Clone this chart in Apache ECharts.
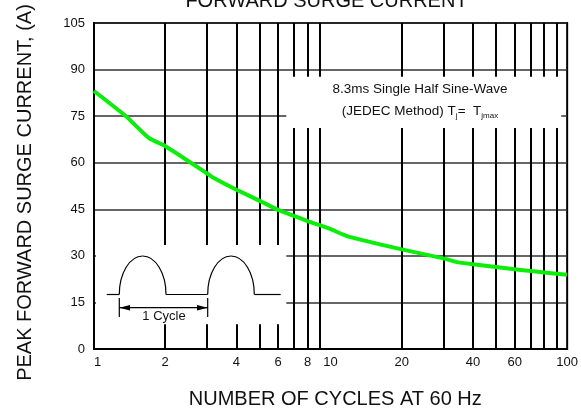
<!DOCTYPE html>
<html>
<head>
<meta charset="utf-8">
<script src="https://cdn.jsdelivr.net/npm/echarts@6/dist/echarts.min.js"></script>
<style>
    html, body { margin: 0; padding: 0; background: #fff; }
    #chart { width: 581px; height: 414px; }
</style>
</head>
<body>
<div id="chart"></div>
<script>
// ==================
// DATA
// ==================

const cycles = [1, 1.37, 1.71, 2, 3, 3.17, 4, 5, 6, 7, 8, 10, 11.9, 20, 30, 34.7, 40, 60, 70.6, 100];
const surgeCurrent = [83.1, 74.9, 67.9, 65.4, 56.6, 55.3, 51.3, 47.8, 44.8, 42.9, 41.2, 38.6, 36.2, 32.1, 29.2, 27.9, 27.3, 25.7, 25.1, 23.9];

const xLabelValues = [1, 2, 4, 6, 8, 10, 20, 40, 60, 100];
const xGridValues = [2, 3, 4, 5, 6, 7, 8, 9, 20, 30, 40, 50, 60, 70, 80, 90];

// white boxes that blank the grid behind the inset and the note
const insetBox = [[1.02, 8], [6.5, 33.5]];
const noteBox = [[6.5, 71.2], [94.4, 87.7]];

// ==================
// CONFIG
// ==================

const FONT = '"Liberation Sans", Arial, sans-serif';
const TEXT = '#111';
const LINE = { stroke: '#000', lineWidth: 1.2, fill: null };

const chart = echarts.init(document.getElementById('chart'));

// inset waveform: a pulse is a half ellipse made of two quarter curves
const baseY = 294.5;
const topY = 256;
const K = 0.5523;

function halfPulse(x0, x1) {
    const h = baseY - topY;
    const rx = (x1 - x0) / 2;
    const xm = x0 + rx;
    return [
        {
            type: 'bezierCurve', z: 10, style: LINE,
            shape: { x1: x0, y1: baseY, cpx1: x0, cpy1: baseY - h * K, cpx2: xm - rx * K, cpy2: topY, x2: xm, y2: topY }
        },
        {
            type: 'bezierCurve', z: 10, style: LINE,
            shape: { x1: xm, y1: topY, cpx1: xm + rx * K, cpy1: topY, cpx2: x1, cpy2: baseY - h * K, x2: x1, y2: baseY }
        }
    ];
}

const insetGraphics = [
    { type: 'line', z: 10, style: LINE, shape: { x1: 106.7, y1: baseY, x2: 119.3, y2: baseY } },
    ...halfPulse(119.3, 166),
    { type: 'line', z: 10, style: LINE, shape: { x1: 166, y1: baseY, x2: 207.7, y2: baseY } },
    ...halfPulse(207.7, 254.3),
    { type: 'line', z: 10, style: LINE, shape: { x1: 254.3, y1: baseY, x2: 280.7, y2: baseY } },
    { type: 'line', z: 10, style: LINE, shape: { x1: 119.3, y1: 298, x2: 119.3, y2: 317 } },
    { type: 'line', z: 10, style: LINE, shape: { x1: 207.7, y1: 298, x2: 207.7, y2: 317 } },
    { type: 'line', z: 10, style: LINE, shape: { x1: 119.3, y1: 307.7, x2: 207.7, y2: 307.7 } },
    { type: 'polygon', z: 10, style: { fill: '#000' }, shape: { points: [[119.3, 307.7], [130, 305], [130, 310.4]] } },
    { type: 'polygon', z: 10, style: { fill: '#000' }, shape: { points: [[207.7, 307.7], [197, 305], [197, 310.4]] } },
    {
        type: 'text', x: 164, y: 316.5, z: 11,
        style: { text: '1 Cycle', font: '13px ' + FONT, fill: TEXT, align: 'center', verticalAlign: 'middle' }
    }
];

const option = {
    animation: false,
    backgroundColor: '#fff',
    grid: {
        left: 94,
        top: 23,
        width: 475,
        height: 326,
        show: true,
        borderColor: '#000',
        borderWidth: 2,
        containLabel: false
    },
    xAxis: {
        type: 'log',
        logBase: 10,
        min: 1,
        max: 100,
        axisLine: { show: true, lineStyle: { color: '#000', width: 2 } },
        axisTick: { show: false },
        splitLine: { show: false },
        axisLabel: {
            customValues: xLabelValues,
            alignMinLabel: 'left',
            color: TEXT,
            fontSize: 13,
            fontFamily: FONT,
            margin: 7
        }
    },
    yAxis: {
        type: 'value',
        min: 0,
        max: 105,
        interval: 15,
        axisLine: { show: true, lineStyle: { color: '#000', width: 2 } },
        axisTick: { show: false },
        axisLabel: {
            color: TEXT,
            fontSize: 13,
            fontFamily: FONT,
            margin: 9
        },
        splitLine: {
            show: true,
            lineStyle: { color: '#333', width: 1.5 }
        }
    },
    series: [{
        type: 'line',
        z: 3,
        data: cycles.map((c, i) => [c, surgeCurrent[i]]),
        smooth: 0.15,
        symbol: 'none',
        lineStyle: { color: '#0aee0a', width: 4 },
        markLine: {
            z: 1,
            silent: true,
            symbol: 'none',
            label: { show: false },
            lineStyle: { color: '#000', width: 2, type: 'solid' },
            data: xGridValues.map(v => ({ xAxis: v }))
        },
        markArea: {
            z: 2,
            silent: true,
            itemStyle: { color: '#fff', borderWidth: 0 },
            data: [
                [{ coord: insetBox[0] }, { coord: insetBox[1] }],
                [{ coord: noteBox[0] }, { coord: noteBox[1] }]
            ]
        }
    }],
    graphic: [
        {
            type: 'text', x: 326.5, y: 1, z: 10,
            style: {
                text: 'FORWARD SURGE CURRENT', font: '20px ' + FONT, fill: TEXT,
                align: 'center', verticalAlign: 'middle'
            }
        },
        {
            type: 'text', x: 335.3, y: 399, z: 10,
            style: {
                text: 'NUMBER OF CYCLES AT 60 Hz', font: '20px ' + FONT, fill: TEXT,
                align: 'center', verticalAlign: 'middle'
            }
        },
        {
            type: 'text', x: 25.8, y: 192.5, rotation: Math.PI / 2, z: 10,
            style: {
                text: 'PEAK FORWARD SURGE CURRENT, (A)', font: '20px ' + FONT, fill: TEXT,
                align: 'center', verticalAlign: 'middle'
            }
        },
        {
            type: 'text', x: 420, y: 89, z: 10,
            style: {
                text: '8.3ms Single Half Sine-Wave', font: '13.5px ' + FONT, fill: TEXT,
                align: 'center', verticalAlign: 'middle'
            }
        },
        {
            type: 'text', x: 420, y: 111, z: 10,
            style: {
                text: '{n|(JEDEC Method) T}{s|j}{n|=  T}{s|jmax}',
                align: 'center', verticalAlign: 'middle',
                rich: {
                    n: { fontSize: 13.5, fontFamily: FONT, fill: TEXT, lineHeight: 18, verticalAlign: 'middle' },
                    s: { fontSize: 8, fontFamily: FONT, fill: TEXT, lineHeight: 18, verticalAlign: 'bottom' }
                }
            }
        },
        ...insetGraphics
    ]
};

chart.setOption(option);
</script>
</body>
</html>
